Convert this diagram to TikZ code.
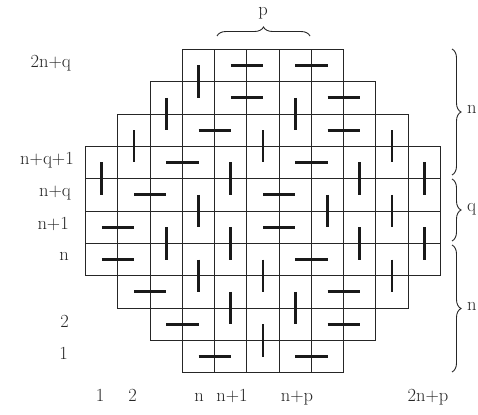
\documentclass[tikz,border=0pt]{standalone}
\usetikzlibrary{decorations.pathreplacing}
\begin{document}
\begin{tikzpicture}[x=1pt,y=-1pt,
  gridline/.style={line width=0.9pt, black!85},
  domino/.style={line width=2.8pt, black!90},
  lbl/.style={font=\fontsize{18.5}{22}\selectfont, inner sep=0pt, text=black!85},
  bracestyle/.style={decorate, decoration={brace, amplitude=9pt}, line width=0.9pt, black!85}]
\useasboundingbox (0,0) rectangle (478,414);
\begin{scope}[shift={(85.7,372.7)}, x=32.24pt, y=32.34pt]
  \foreach \r/\a/\b in {1/4/8, 2/3/9, 3/2/10, 4/1/11, 5/1/11, 6/1/11, 7/1/11, 8/2/10, 9/3/9, 10/4/8} {
    \foreach \c in {\a,...,\b} {
      \draw[gridline] (\c-1,\r-1) rectangle (\c,\r);
      \coordinate (m-\c-\r) at (\c-0.5,\r-0.5);
    }
  }
\end{scope}
% horizontal dominoes
\foreach \p/\q in {5-10/6-10, 7-10/8-10, 5-9/6-9, 8-9/9-9, 4-8/5-8, 8-8/9-8, 3-7/4-7, 7-7/8-7, 2-6/3-6, 6-6/7-6, 1-5/2-5, 6-5/7-5, 1-4/2-4, 7-4/8-4, 2-3/3-3, 8-3/9-3, 3-2/4-2, 8-2/9-2, 4-1/5-1, 7-1/8-1}
  \draw[domino] (m-\p) -- (m-\q);
% vertical dominoes
\foreach \p/\q in {4-10/4-9, 4-6/4-5, 4-4/4-3, 3-9/3-8, 3-5/3-4, 7-9/7-8, 7-3/7-2, 2-8/2-7, 6-8/6-7, 6-4/6-3, 6-2/6-1, 10-8/10-7, 10-6/10-5, 10-4/10-3, 1-7/1-6, 5-7/5-6, 5-5/5-4, 5-3/5-2, 9-7/9-6, 9-5/9-4, 11-7/11-6, 11-5/11-4, 8-6/8-5}
  \draw[domino] (m-\p) -- (m-\q);
% left labels
\node[lbl, anchor=mid east] (L10) at (71,65) {2n+q};
\node[lbl, anchor=mid east] (L7) at (74,162) {n+q+1};
\node[lbl, anchor=mid east] (L6) at (71,194) {n+q};
\node[lbl, anchor=mid east] (L5) at (69,227) {n+1};
\node[lbl, anchor=mid east] (L4) at (69,258) {n};
\node[lbl, anchor=mid east] (L2) at (69,325) {2};
\node[lbl, anchor=mid east] (L1) at (68,357) {1};
% bottom labels
\node[lbl, anchor=mid] (B1) at (100,399) {1};
\node[lbl, anchor=mid] (B2) at (132.5,399) {2};
\node[lbl, anchor=mid] (B4) at (199,399) {n};
\node[lbl, anchor=mid] (B5) at (232,399) {n+1};
\node[lbl, anchor=mid] (B7) at (297,399) {n+p};
\node[lbl, anchor=mid] (B11) at (428,399) {2n+p};
% top brace
\draw[bracestyle] (217,36) -- (310,36);
\node[lbl, anchor=mid] (TP) at (263,13) {p};
% right braces
\draw[bracestyle] (452,49) -- (452,175);
\draw[bracestyle] (452,179) -- (452,241);
\draw[bracestyle] (452,245) -- (452,372);
\node[lbl, anchor=mid west] (R1) at (467,111) {n};
\node[lbl, anchor=mid west] (R2) at (467,209) {q};
\node[lbl, anchor=mid west] (R3) at (467,308) {n};
\end{tikzpicture}
\end{document}
